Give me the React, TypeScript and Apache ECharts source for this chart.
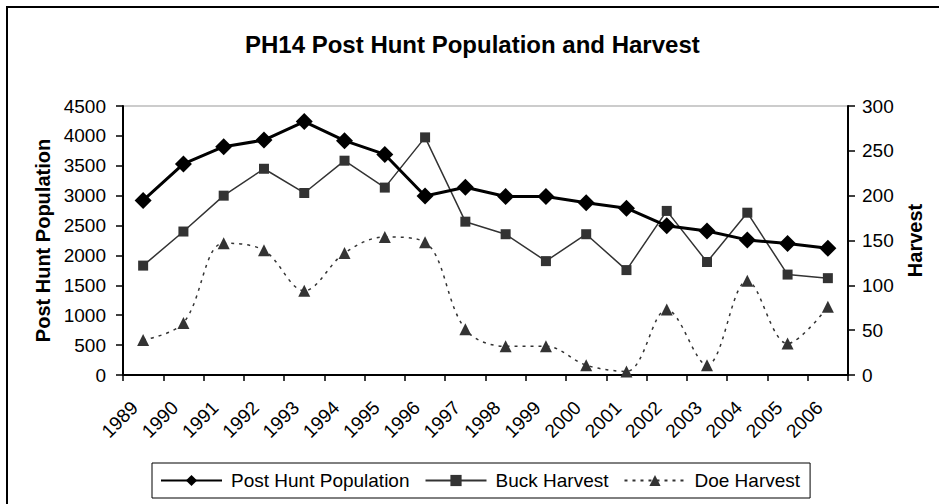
import React, { useEffect, useRef } from "react";
import * as echarts from "echarts";

const years = ["1989","1990","1991","1992","1993","1994","1995","1996","1997","1998","1999","2000","2001","2002","2003","2004","2005","2006"];
const postHuntPopulation = [2920, 3530, 3820, 3930, 4240, 3920, 3690, 2995, 3140, 2985, 2985, 2880, 2790, 2495, 2410, 2260, 2200, 2120];
const buckHarvest = [122, 160, 200, 230, 203, 239, 209, 265, 171, 157, 127, 157, 117, 183, 126, 181, 112, 108];
const doeHarvest = [39, 58, 147, 139, 94, 136, 154, 148, 51, 32, 32, 11, 4, 73, 11, 105, 35, 76];
const leftTicks = { min: 0, max: 4500, interval: 500 };
const rightTicks = { min: 0, max: 300, interval: 50 };

const FONT = "'Liberation Sans', Arial, sans-serif";

export default function App() {
  const ref = useRef<HTMLDivElement>(null);
  useEffect(() => {
    if (!ref.current) return;
    const chart = echarts.init(ref.current, null, { renderer: "svg" });
    chart.setOption({
      animation: false,
      backgroundColor: "#fff",
      textStyle: { fontFamily: FONT, color: "#000" },
      title: {
        text: "PH14 Post Hunt Population and Harvest",
        left: 240,
        top: 27,
        textStyle: { fontFamily: FONT, fontSize: 24, fontWeight: "bold", color: "#000" },
      },
      graphic: [
        {
          type: "rect",
          shape: { x: 7, y: 7, width: 1000, height: 700 },
          style: { fill: "none", stroke: "#000", lineWidth: 2 },
          silent: true,
        },
      ],
      legend: {
        left: 152,
        top: 463,
        orient: "horizontal",
        borderColor: "#000",
        borderWidth: 1,
        padding: [8, 10, 8, 8],
        itemGap: 15,
        itemWidth: 61,
        itemHeight: 14,
        textStyle: { fontFamily: FONT, fontSize: 19, color: "#000", padding: [0, 0, 0, 4] },
        data: ["Post Hunt Population", "Buck Harvest", "Doe Harvest"],
      },
      grid: {
        left: 123,
        right: 91,
        top: 106,
        bottom: 129,
        show: true,
        borderColor: "#999",
        borderWidth: 1,
        backgroundColor: "transparent",
      },
      xAxis: {
        type: "category",
        data: years,
        boundaryGap: true,
        axisLine: { lineStyle: { color: "#000", width: 2 } },
        axisTick: { show: true, length: 6, lineStyle: { color: "#000", width: 1.5 } },
        axisLabel: {
          rotate: 45,
          margin: 21,
          fontSize: 19,
          color: "#000",
          fontFamily: FONT,
          interval: 0,
          padding: [0, 12, 0, 0],
        },
        splitLine: { show: false },
      },
      yAxis: [
        {
          type: "value",
          min: leftTicks.min,
          max: leftTicks.max,
          interval: leftTicks.interval,
          name: "Post Hunt Population",
          nameLocation: "middle",
          nameRotate: 90,
          nameGap: 64,
          nameTextStyle: { fontFamily: FONT, fontSize: 20, fontWeight: "bold", color: "#000" },
          axisLine: { show: true, lineStyle: { color: "#000", width: 2 } },
          axisTick: { show: true, length: 7, lineStyle: { color: "#000", width: 1.5 } },
          axisLabel: { margin: 17, fontSize: 19, color: "#000", fontFamily: FONT, formatter: (v: number) => String(v) },
          splitLine: { show: false },
        },
        {
          type: "value",
          min: rightTicks.min,
          max: rightTicks.max,
          interval: rightTicks.interval,
          name: "Harvest",
          nameLocation: "middle",
          nameRotate: 90,
          nameGap: 56,
          nameTextStyle: { fontFamily: FONT, fontSize: 20, fontWeight: "bold", color: "#000" },
          position: "right",
          axisLine: { show: true, lineStyle: { color: "#000", width: 2 } },
          axisTick: { show: true, length: 7, lineStyle: { color: "#000", width: 1.5 } },
          axisLabel: { margin: 14, fontSize: 19, color: "#000", fontFamily: FONT, formatter: (v: number) => String(v) },
          splitLine: { show: false },
        },
      ],
      series: [
        {
          name: "Post Hunt Population",
          type: "line",
          yAxisIndex: 0,
          data: postHuntPopulation,
          symbol: "diamond",
          symbolSize: 17,
          itemStyle: { color: "#000" },
          lineStyle: { color: "#000", width: 3 },
          z: 5,
        },
        {
          name: "Buck Harvest",
          type: "line",
          yAxisIndex: 1,
          data: buckHarvest,
          symbol: "rect",
          symbolSize: 10,
          itemStyle: { color: "#333" },
          lineStyle: { color: "#333", width: 1.5 },
          z: 4,
        },
        {
          name: "Doe Harvest",
          type: "line",
          yAxisIndex: 1,
          data: doeHarvest,
          symbol: "triangle",
          symbolSize: 12,
          smooth: 0.35,
          itemStyle: { color: "#333" },
          lineStyle: { color: "#333", width: 1.5, type: [3, 5] },
          z: 3,
        },
      ],
    });
    return () => chart.dispose();
  }, []);
  return (
    <div
      ref={ref}
      style={{ position: "fixed", left: 0, top: 0, width: 939, height: 504, background: "#fff" }}
    />
  );
}
